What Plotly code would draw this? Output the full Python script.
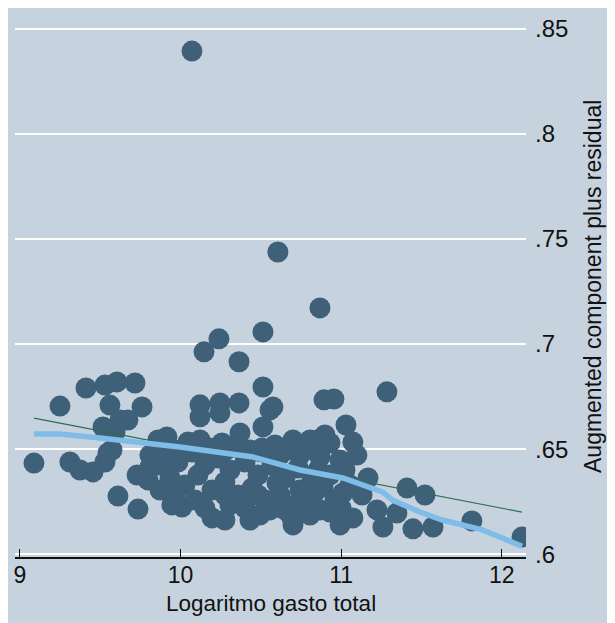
import plotly.graph_objects as go

# ---- data ----
gasto_x = [
    10.071, 10.606, 10.868, 10.513, 10.239, 10.146, 10.364, 11.285, 10.513, 10.575,
    10.893, 10.955, 10.121, 10.245, 10.364, 10.121, 10.245, 10.370, 10.557, 10.513,
    10.258, 10.700, 10.806, 9.915, 10.009, 10.196, 10.494, 10.700, 10.600, 10.787,
    9.087, 9.249, 9.411, 9.529, 9.604, 9.716, 9.560, 9.760, 9.623, 9.517,
    9.592, 9.573, 9.311, 9.374, 9.455, 9.529, 9.548, 9.610, 9.735, 9.729,
    9.809, 9.859, 9.672,
    9.903, 9.984, 10.071, 10.152, 10.233, 10.308, 10.401, 10.482, 10.569, 10.650,
    10.731, 10.818, 9.934, 10.027, 10.108, 10.196, 10.276, 10.357, 10.445, 10.526,
    10.619, 10.712, 10.793, 10.868, 9.965, 10.090, 10.308, 10.557, 10.806, 9.872,
    9.797, 10.432, 10.619, 10.744,
    11.030, 11.073, 11.098, 10.849, 10.930, 10.868, 10.993, 11.167, 11.410, 11.522,
    11.572, 11.447, 11.260, 11.223, 11.073, 10.930, 10.806, 11.347, 11.011, 10.887,
    11.814, 12.126, 10.899, 11.000, 10.694,
    9.809, 9.884, 9.965, 10.046, 10.121, 10.183, 10.283, 10.345, 10.507, 10.588,
    10.669, 10.775, 10.856, 10.930, 11.024, 9.872, 9.946, 10.152, 10.276, 10.401,
    10.482, 10.650, 10.744, 10.837, 10.961, 11.055, 11.130, 10.993, 10.432, 10.276,
]
residual_y = [
    0.8394, 0.7438, 0.7172, 0.7058, 0.7025, 0.6963, 0.6916, 0.6773, 0.6796, 0.6701,
    0.6735, 0.6739, 0.6711, 0.6720, 0.6720, 0.6654, 0.6673, 0.6577, 0.6687, 0.6606,
    0.6530, 0.6544, 0.6544, 0.6558, 0.6225, 0.6173, 0.6187, 0.6140, 0.6339, 0.6306,
    0.6434, 0.6705, 0.6791, 0.6805, 0.6820, 0.6815, 0.6710, 0.6701, 0.6639, 0.6606,
    0.6582, 0.6496, 0.6439, 0.6401, 0.6392, 0.6439, 0.6482, 0.6277, 0.6215, 0.6377,
    0.6415, 0.6544, 0.6639,
    0.6472, 0.6439, 0.6487, 0.6425, 0.6458, 0.6401, 0.6439, 0.6377, 0.6425, 0.6363,
    0.6411, 0.6354, 0.6363, 0.6330, 0.6377, 0.6306, 0.6344, 0.6282, 0.6315, 0.6258,
    0.6282, 0.6235, 0.6268, 0.6211, 0.6282, 0.6258, 0.6235, 0.6211, 0.6187, 0.6425,
    0.6354, 0.6496, 0.6472, 0.6472,
    0.6615, 0.6534, 0.6472, 0.6544, 0.6530, 0.6463, 0.6449, 0.6363, 0.6315, 0.6282,
    0.6130, 0.6121, 0.6130, 0.6211, 0.6173, 0.6201, 0.6258, 0.6196, 0.6292, 0.6320,
    0.6159, 0.6082, 0.6568, 0.6220, 0.6173,
    0.6472, 0.6506, 0.6496, 0.6534, 0.6544, 0.6506, 0.6496, 0.6515, 0.6506, 0.6520,
    0.6496, 0.6496, 0.6401, 0.6377, 0.6401, 0.6306, 0.6235, 0.6220, 0.6282, 0.6220,
    0.6282, 0.6211, 0.6306, 0.6296, 0.6258, 0.6330, 0.6282, 0.6140, 0.6163, 0.6163,
]

# linear fit line (endpoints)
fit_x = [9.087, 12.126]
fit_y = [0.6648, 0.6201]

# lowess smooth
lowess_x = [9.087, 9.249, 9.498, 9.797, 9.996, 10.451, 10.744, 11.011, 11.260, 11.320,
            11.490, 11.630, 11.880, 12.126]
lowess_y = [0.6572, 0.6572, 0.6553, 0.6527, 0.6510, 0.6463, 0.6401, 0.6363, 0.6296, 0.6258,
            0.6201, 0.6163, 0.6116, 0.6038]

x_ticks = [9, 10, 11, 12]
x_ticklabels = ["9", "10", "11", "12"]
y_ticks = [0.6, 0.65, 0.7, 0.75, 0.8, 0.85]
y_ticklabels = [".6", ".65", ".7", ".75", ".8", ".85"]

x_title = "Logaritmo gasto total"
y_title = "Augmented component plus residual"

BG = "#C6D3DF"
MARK = "#3E6079"
LOW = "#7FBDE8"
FIT = "#2E6E55"
FONT = "Liberation Sans, Arial, sans-serif"

# the page body adds an 8px offset; figure is sized to fill the rest of the window
W, H = 607, 615
L, R, T, B = 7, 89, 9, 66
pw = W - L - R
ph = H - T - B

fig = go.Figure()
fig.add_trace(go.Scatter(x=gasto_x, y=residual_y, mode="markers",
                         marker=dict(size=21, color=MARK, line=dict(width=0)),
                         showlegend=False, hoverinfo="x+y"))
fig.add_trace(go.Scatter(x=fit_x, y=fit_y, mode="lines",
                         line=dict(color=FIT, width=1.2), showlegend=False))
fig.add_trace(go.Scatter(x=lowess_x, y=lowess_y, mode="lines",
                         line=dict(color=LOW, width=5.5), showlegend=False))

fig.update_layout(
    width=W, height=H,
    margin=dict(l=L, r=R, t=T, b=B, pad=0),
    paper_bgcolor=BG, plot_bgcolor=BG,
    font=dict(family=FONT, size=23, color="#111111"),
    xaxis=dict(range=[8.969, 12.151], tickvals=x_ticks, ticktext=x_ticklabels,
               showgrid=False, zeroline=False, showline=True, linecolor="#111111",
               linewidth=1.5, ticks="inside", ticklen=8, tickwidth=1.2,
               tickcolor="#111111", tickfont=dict(size=23), ticklabelstandoff=-3),
    yaxis=dict(range=[0.59872, 0.8556], side="right", tickvals=y_ticks,
               ticktext=y_ticklabels, showgrid=True, gridcolor="#FFFFFF",
               gridwidth=1.5, zeroline=False, showline=False, ticks="",
               tickfont=dict(size=24), ticklabelstandoff=8),
    annotations=[
        dict(text=x_title, xref="paper", yref="paper", x=0.5, y=-(595 - 549) / ph,
             xanchor="center", yanchor="middle", showarrow=False, font=dict(size=22.5)),
        dict(text=y_title, xref="paper", yref="paper", x=(585 - L) / pw, y=0.5,
             xanchor="center", yanchor="middle", textangle=-90, showarrow=False,
             font=dict(size=23)),
    ],
)

fig.write_html("out.html")
